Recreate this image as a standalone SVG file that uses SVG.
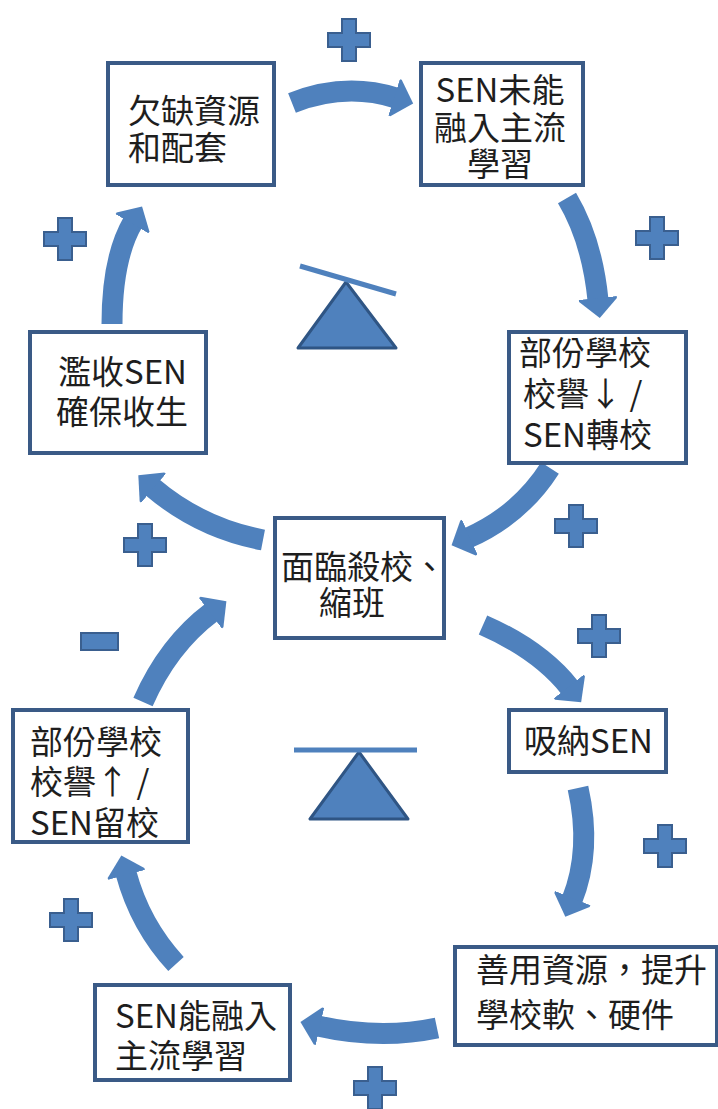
<svg xmlns="http://www.w3.org/2000/svg" width="718" height="1109" viewBox="0 0 718 1109">
<style>
.box{fill:#fff;stroke:#3a5a86;stroke-width:4}
.t{font-family:"Noto Sans CJK TC","Noto Sans CJK SC",sans-serif;font-size:33px;fill:#1e1e1e}
.shaft{fill:none;stroke:#4f81bd;stroke-width:21}
.plus{fill:#4f81bd;stroke:#3a5f8f;stroke-width:2}
.tri{fill:#4f81bd;stroke:#2f5584;stroke-width:3;stroke-linejoin:round}
.bar{stroke:#4f81bd;stroke-width:5}
</style>
<defs>
<marker id="ah" markerUnits="userSpaceOnUse" orient="auto" markerWidth="24" markerHeight="42" viewBox="-2 -21 24 42" refX="0" refY="0">
<path d="M-2,-19 L0,-19 L18,0 L0,19 L-2,19 Z" fill="#4f81bd"/>
</marker>
<path id="plusShape" d="M-7,-21 h14 v14 h14 v14 h-14 v14 h-14 v-14 h-14 v-14 h14 Z"/>
</defs>

<g id="connectors">
<path class="shaft" marker-end="url(#ah)" d="M292,103 Q345,82 396,98"/>
<path class="shaft" marker-end="url(#ah)" d="M567,198 Q592,240 598,300"/>
<path class="shaft" marker-end="url(#ah)" d="M112,324 Q112,258 133,222"/>
<path class="shaft" marker-end="url(#ah)" d="M263,540 Q200,528 152,487"/>
<path class="shaft" marker-end="url(#ah)" d="M550,468 Q520,515 468,538"/>
<path class="shaft" marker-end="url(#ah)" d="M143,702 Q168,645 212,612"/>
<path class="shaft" marker-end="url(#ah)" d="M483,625 Q540,650 570,688"/>
<path class="shaft" marker-end="url(#ah)" d="M578,788 Q592,850 572,900"/>
<path class="shaft" marker-end="url(#ah)" d="M437,1028 Q380,1040 318,1026"/>
<path class="shaft" marker-end="url(#ah)" d="M176,964 Q140,925 126,873"/>
</g>

<g id="signs">
<use href="#plusShape" class="plus" x="349" y="40"/>
<use href="#plusShape" class="plus" x="657" y="238"/>
<use href="#plusShape" class="plus" x="65" y="239"/>
<use href="#plusShape" class="plus" x="576" y="526"/>
<use href="#plusShape" class="plus" x="145" y="545"/>
<rect class="plus" x="81" y="633" width="37" height="17"/>
<use href="#plusShape" class="plus" x="599" y="636"/>
<use href="#plusShape" class="plus" x="665" y="846"/>
<use href="#plusShape" class="plus" x="71" y="920"/>
<use href="#plusShape" class="plus" x="375" y="1088"/>
</g>

<g id="seesaw-top">
<polygon class="tri" points="346,282 298,348 396,348"/>
<line class="bar" x1="300" y1="266" x2="396" y2="294"/>
</g>
<g id="seesaw-bottom">
<polygon class="tri" points="359,752 310,819 408,819"/>
<line class="bar" x1="294" y1="750" x2="417" y2="750"/>
</g>

<g id="node-a">
<rect class="box" x="108" y="63" width="166" height="122"/>
<text class="t" x="128" y="123">欠缺資源</text>
<text class="t" x="128" y="160">和配套</text>
</g>
<g id="node-b">
<rect class="box" x="421" y="63" width="162" height="122"/>
<text class="t" x="500" y="102" text-anchor="middle">SEN未能</text>
<text class="t" x="500" y="140" text-anchor="middle">融入主流</text>
<text class="t" x="500" y="176" text-anchor="middle">學習</text>
</g>
<g id="node-c">
<rect class="box" x="509" y="332" width="177" height="131"/>
<text class="t" x="519" y="365">部份學校</text>
<text class="t" x="523" y="406">校譽↓ /</text>
<text class="t" x="523" y="447">SEN轉校</text>
</g>
<g id="node-d">
<rect class="box" x="30" y="332" width="176" height="121"/>
<text class="t" x="58" y="384">濫收SEN</text>
<text class="t" x="56" y="424">確保收生</text>
</g>
<g id="node-center">
<rect class="box" x="275" y="518" width="169" height="120"/>
<text class="t" x="281" y="579">面臨殺校、</text>
<text class="t" x="319" y="615">縮班</text>
</g>
<g id="node-e">
<rect class="box" x="13" y="710" width="175" height="132"/>
<text class="t" x="30" y="754">部份學校</text>
<text class="t" x="30" y="794">校譽↑ /</text>
<text class="t" x="30" y="835">SEN留校</text>
</g>
<g id="node-f">
<rect class="box" x="509" y="710" width="157" height="62"/>
<text class="t" x="524" y="753">吸納SEN</text>
</g>
<g id="node-g">
<rect class="box" x="455" y="947" width="262" height="98"/>
<text class="t" x="476" y="982">善用資源，提升</text>
<text class="t" x="476" y="1027">學校軟、硬件</text>
</g>
<g id="node-h">
<rect class="box" x="95" y="985" width="195" height="95"/>
<text class="t" x="115" y="1028">SEN能融入</text>
<text class="t" x="115" y="1068">主流學習</text>
</g>
</svg>
